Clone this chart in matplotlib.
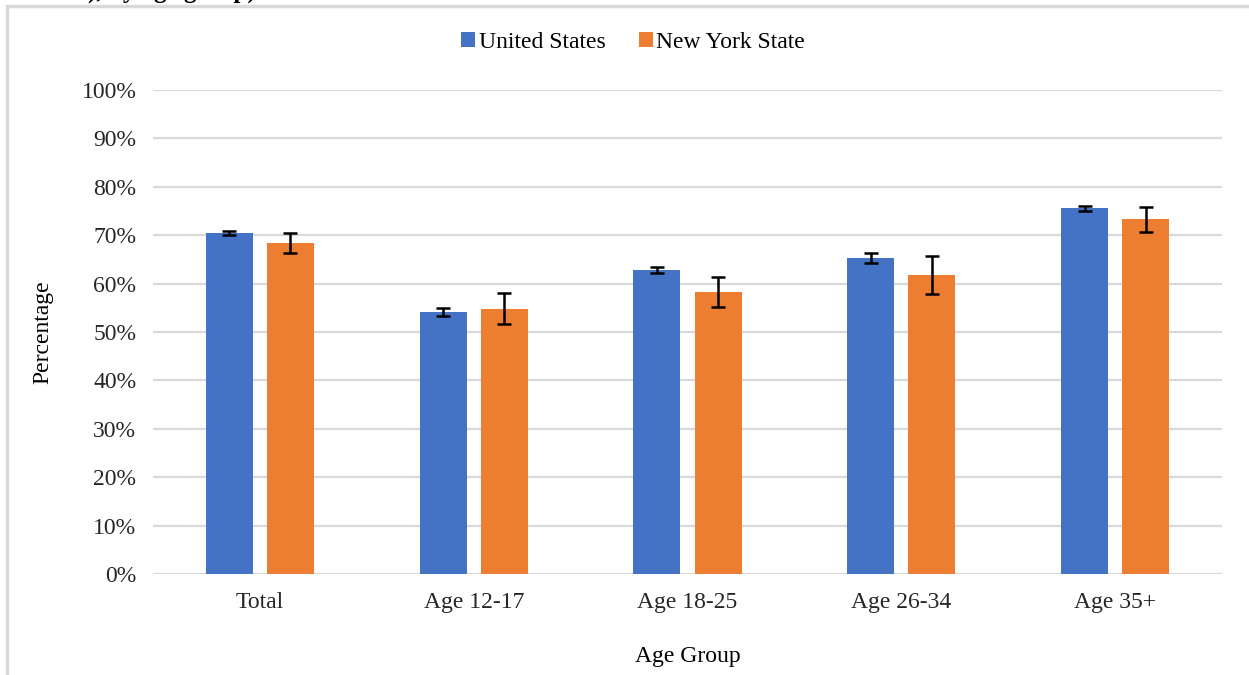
import matplotlib.pyplot as plt
import numpy as np
from matplotlib.patches import Rectangle

plt.rcParams['font.family'] = ['Liberation Serif', 'DejaVu Serif']

groups = ["Total", "Age 12-17", "Age 18-25", "Age 26-34", "Age 35+"]
us = [70.5, 54.1, 62.8, 65.3, 75.6]
us_err = [0.4, 0.8, 0.7, 1.0, 0.5]
ny = [68.4, 54.8, 58.3, 61.8, 73.3]
ny_err = [2.0, 3.2, 3.1, 3.9, 2.6]
yticks = np.arange(0, 101, 10)

fig = plt.figure(figsize=(12.49, 6.75), dpi=100)
ax = fig.add_axes([153/1249, 101/675, 1069/1249, 484/675])

# frame of the pasted chart and the cut-off title above it
fig.patches.append(Rectangle((7/1249, -0.1), 1.2, 0.1 + 669/675, transform=fig.transFigure,
                             fill=False, edgecolor='#d9d9d9', linewidth=2.5))
fig.text(88/1249, 1 + 2.5/675, "), by age group)", fontsize=18, fontweight='bold',
         va='baseline', ha='left')

x = np.arange(len(groups))
w = 0.22
ax.bar(x - 0.143, us, w, color='#4472c4', label='United States', zorder=3,
       yerr=us_err, error_kw=dict(ecolor='black', elinewidth=1.8, capsize=5, capthick=1.8))
ax.bar(x + 0.143, ny, w, color='#ed7d31', label='New York State', zorder=3,
       yerr=ny_err, error_kw=dict(ecolor='black', elinewidth=1.8, capsize=5, capthick=1.8))

ax.set_xlim(-0.5, 4.5)
ax.set_ylim(0, 100)
ax.set_yticks(yticks)
ax.set_yticklabels([f"{t}%" for t in yticks])
ax.set_xticks(x)
ax.set_xticklabels(groups)
ax.tick_params(axis='both', length=0, labelsize=17, colors='#262626')
ax.tick_params(axis='x', pad=13)
ax.tick_params(axis='y', pad=12)
ax.grid(axis='y', color='#d9d9d9', linewidth=1.6, zorder=0)
for s in ax.spines.values():
    s.set_visible(False)

ax.set_ylabel("Percentage", fontsize=17, labelpad=20)
ax.set_xlabel("Age Group", fontsize=17, labelpad=24)

fig.legend(loc='center', bbox_to_anchor=(633/1249, 1 - 42/675), ncol=2, frameon=False,
           fontsize=17, handlelength=0.6, handleheight=0.6, handletextpad=0.15,
           columnspacing=1.4)

fig.savefig("out.png", dpi=100)
